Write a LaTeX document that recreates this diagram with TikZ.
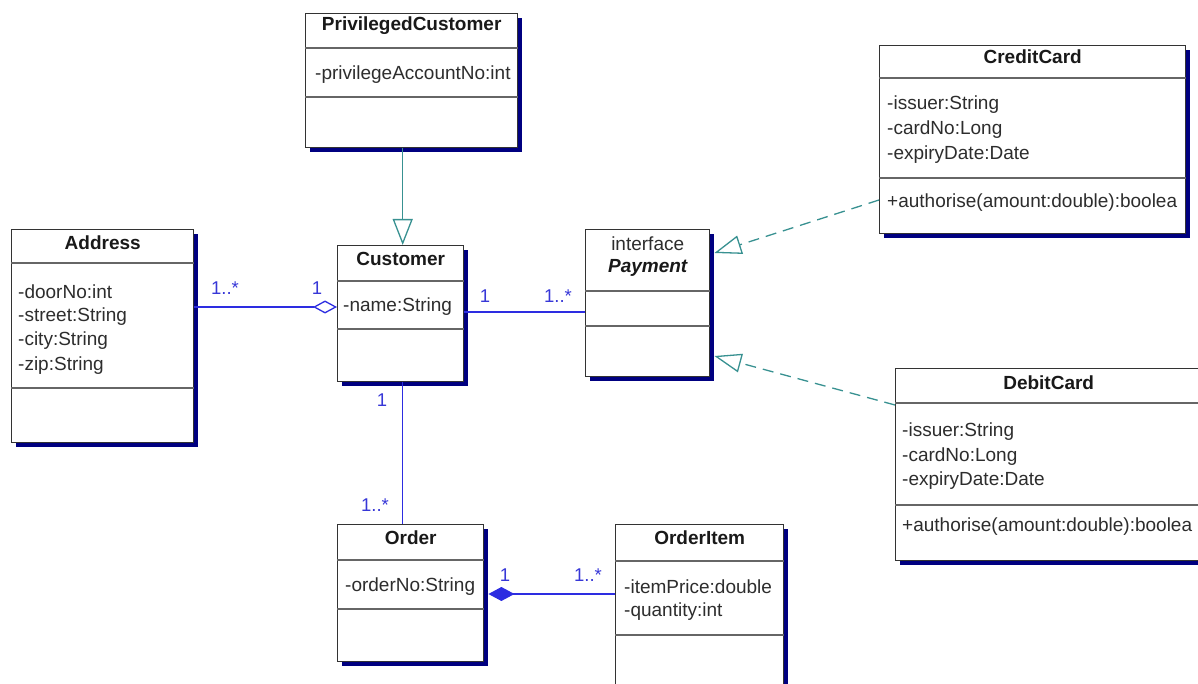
\documentclass[tikz,border=0pt]{standalone}
\usepackage{fontspec}
\setmainfont{Liberation Sans}
\usetikzlibrary{arrows.meta,shadows}

\definecolor{navy}{RGB}{0,0,128}
\definecolor{genteal}{RGB}{56,145,145}
\definecolor{assocblue}{RGB}{45,45,225}
\definecolor{lblblue}{RGB}{55,55,215}
\definecolor{txtgray}{RGB}{45,45,45}

\tikzset{
  classbox/.style={rectangle, draw=black!80, line width=1.4pt, fill=white,
    inner sep=0pt, anchor=north west,
    drop shadow={shadow xshift=4.5pt, shadow yshift=-4.5pt, fill=navy, opacity=1}},
  sepline/.style={draw=black!60, line width=1.6pt},
  ctitle/.style={inner sep=0pt, font=\fontsize{19}{23}\selectfont\bfseries, text=black!90},
  attr/.style={inner sep=0pt, anchor=west, font=\fontsize{19}{23}\selectfont, text=txtgray},
  mult/.style={inner sep=0pt, font=\fontsize{18.5}{22}\selectfont, text=lblblue},
  genline/.style={draw=genteal, line width=1.3pt,
    -{Triangle[open, length=26pt, width=20pt, fill=white]}},
  realline/.style={draw=genteal, line width=1.3pt, dash pattern=on 11pt off 7pt,
    -{Triangle[open, length=27pt, width=19pt, fill=white]}},
  assocline/.style={draw=assocblue, line width=1.3pt},
}

\begin{document}
\begin{tikzpicture}[x=1pt, y=-1pt]
\useasboundingbox (0,0) rectangle (1198,684);
\clip (0,0) rectangle (1198,684);

% ---------- PrivilegedCustomer ----------
\node[classbox, minimum width=212pt, minimum height=134pt] (priv) at (305,13) {};
\draw[sepline] ([yshift=-35pt]priv.north west) -- ([yshift=-35pt]priv.north east);
\draw[sepline] ([yshift=-84pt]priv.north west) -- ([yshift=-84pt]priv.north east);
\node[ctitle] (privt) at ([yshift=-13pt]priv.north) {PrivilegedCustomer};
\node[attr] (priva) at ([shift={(10pt,-62pt)}]priv.north west) {-privilegeAccountNo:int};

% ---------- Customer ----------
\node[classbox, minimum width=126pt, minimum height=136pt] (cust) at (337,245) {};
\draw[sepline] ([yshift=-36pt]cust.north west) -- ([yshift=-36pt]cust.north east);
\draw[sepline] ([yshift=-84pt]cust.north west) -- ([yshift=-84pt]cust.north east);
\node[ctitle] (custt) at ([yshift=-14pt]cust.north) {Customer};
\node[attr] (cname) at ([shift={(6pt,-62pt)}]cust.north west) {-name:String};

% ---------- Address ----------
\node[classbox, minimum width=182pt, minimum height=213pt] (addr) at (11,229) {};
\draw[sepline] ([yshift=-34pt]addr.north west) -- ([yshift=-34pt]addr.north east);
\draw[sepline] ([yshift=-159pt]addr.north west) -- ([yshift=-159pt]addr.north east);
\node[ctitle] (addrt) at ([yshift=-14pt]addr.north) {Address};
\node[attr] (addr1) at ([shift={(7pt,-63pt)}]addr.north west) {-doorNo:int};
\node[attr] (addr2) at ([shift={(7pt,-88pt)}]addr.north west) {-street:String};
\node[attr] (addr3) at ([shift={(7pt,-112pt)}]addr.north west) {-city:String};
\node[attr] (addr4) at ([shift={(7pt,-137pt)}]addr.north west) {-zip:String};

% ---------- Payment (interface) ----------
\node[classbox, minimum width=124pt, minimum height=147pt] (pay) at (585,229) {};
\draw[sepline] ([yshift=-62pt]pay.north west) -- ([yshift=-62pt]pay.north east);
\draw[sepline] ([yshift=-97pt]pay.north west) -- ([yshift=-97pt]pay.north east);
\node[attr, anchor=center] (payk) at ([yshift=-15pt]pay.north) {interface};
\node[ctitle, font=\fontsize{19}{23}\selectfont\bfseries\itshape] (payt) at ([yshift=-39pt]pay.north) {Payment};

% ---------- CreditCard ----------
\node[classbox, minimum width=306pt, minimum height=188pt] (cc) at (879,45) {};
\draw[sepline] ([yshift=-33pt]cc.north west) -- ([yshift=-33pt]cc.north east);
\draw[sepline] ([yshift=-133pt]cc.north west) -- ([yshift=-133pt]cc.north east);
\node[ctitle] (cct) at ([yshift=-12pt]cc.north) {CreditCard};
\node[attr] (cc1) at ([shift={(8pt,-60pt)}]cc.north west) {-issuer:String};
\node[attr] (cc2) at ([shift={(8pt,-85pt)}]cc.north west) {-cardNo:Long};
\node[attr] (cc3) at ([shift={(8pt,-110pt)}]cc.north west) {-expiryDate:Date};
\begin{scope}
  \clip ([xshift=-0.7pt]cc.north west) rectangle ([xshift=-0.7pt]cc.south east);
  \node[attr] (ccm) at ([shift={(8pt,-158pt)}]cc.north west) {+authorise(amount:double):boolea};
\end{scope}

% ---------- DebitCard ----------
\node[classbox, minimum width=306pt, minimum height=192pt] (dc) at (895,368) {};
\draw[sepline] ([yshift=-35pt]dc.north west) -- ([yshift=-35pt]dc.north east);
\draw[sepline] ([yshift=-137pt]dc.north west) -- ([yshift=-137pt]dc.north east);
\node[ctitle] (dct) at ([yshift=-15pt]dc.north) {DebitCard};
\node[attr] (dc1) at ([shift={(7pt,-64pt)}]dc.north west) {-issuer:String};
\node[attr] (dc2) at ([shift={(7pt,-89pt)}]dc.north west) {-cardNo:Long};
\node[attr] (dc3) at ([shift={(7pt,-113pt)}]dc.north west) {-expiryDate:Date};
\node[attr] (dcm) at ([shift={(7pt,-159pt)}]dc.north west) {+authorise(amount:double):boolea};

% ---------- Order ----------
\node[classbox, minimum width=146pt, minimum height=137pt] (ord) at (337,524) {};
\draw[sepline] ([yshift=-36pt]ord.north west) -- ([yshift=-36pt]ord.north east);
\draw[sepline] ([yshift=-85pt]ord.north west) -- ([yshift=-85pt]ord.north east);
\node[ctitle] (ordt) at ([yshift=-14pt]ord.north) {Order};
\node[attr] (ord1) at ([shift={(8pt,-63pt)}]ord.north west) {-orderNo:String};

% ---------- OrderItem ----------
\node[classbox, minimum width=168pt, minimum height=175pt] (item) at (615,524) {};
\draw[sepline] ([yshift=-37pt]item.north west) -- ([yshift=-37pt]item.north east);
\draw[sepline] ([yshift=-111pt]item.north west) -- ([yshift=-111pt]item.north east);
\node[ctitle] (itemt) at ([yshift=-14pt]item.north) {OrderItem};
\node[attr] (item1) at ([shift={(9pt,-63pt)}]item.north west) {-itemPrice:double};
\node[attr] (item2) at ([shift={(9pt,-88pt)}]item.north west) {-quantity:int};

% ---------- connectors ----------
\coordinate (gx) at ([xshift=2pt]cust.north);
\coordinate (cpy) at (0,312);
\coordinate (ooy) at (0,594);

% generalisation PrivilegedCustomer -> Customer
\draw[genline] (gx |- priv.south) -- (gx);

% aggregation Customer <>-- Address
\draw[assocline, {Diamond[open, length=24pt, width=13pt, fill=white]}-]
  (cust.west |- cname) -- (addr.east |- cname);

% association Customer -- Payment
\draw[assocline] (cust.east |- cpy) -- (pay.west |- cpy);

% association Customer -- Order
\draw[assocline] (gx |- cust.south) -- (gx |- ord.north);

% composition Order <#>-- OrderItem
\draw[assocline, {Diamond[length=26pt, width=14pt, fill=assocblue]}-]
  ([xshift=4pt]ord.east |- ooy) -- (item.west |- ooy);

% realisations CreditCard, DebitCard -> Payment
\draw[realline] ([yshift=-155pt]cc.north west) -- ([shift={(4pt,-24pt)}]pay.north east);
\draw[realline] ([yshift=-37pt]dc.north west) -- ([shift={(4pt,-127pt)}]pay.north east);

% ---------- multiplicities ----------
\node[mult] (m1) at (225,288) {1..*};
\node[mult] (m2) at (317,288) {1};
\node[mult] (m3) at (485,296) {1};
\node[mult] (m4) at (558,296) {1..*};
\node[mult] (m5) at (382,400) {1};
\node[mult] (m6) at (375,505) {1..*};
\node[mult] (m7) at (505,575) {1};
\node[mult] (m8) at (588,575) {1..*};
\end{tikzpicture}
\end{document}
